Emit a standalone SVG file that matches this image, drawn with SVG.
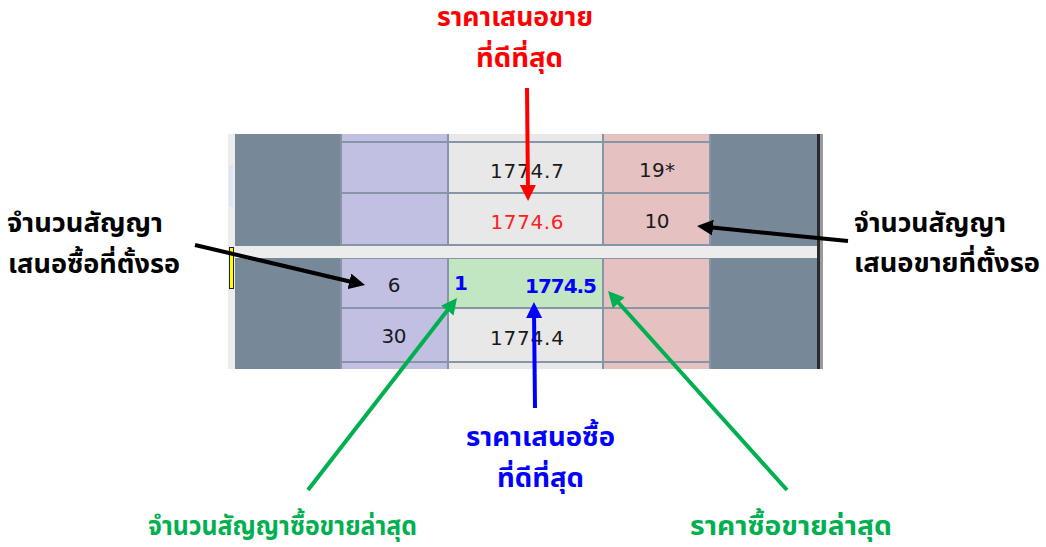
<svg xmlns="http://www.w3.org/2000/svg" width="1046" height="547" viewBox="0 0 1046 547">
<style>
.th{font-family:"Noto Sans Thai","Noto Sans Thai UI","Tahoma","Noto Sans","DejaVu Sans",sans-serif;font-weight:bold;font-size:26px}
.num{font-family:"DejaVu Sans","Liberation Sans",sans-serif;font-size:20px;fill:#1a1a1a}
.bnum{font-family:"DejaVu Sans","Liberation Sans",sans-serif;font-size:20px;font-weight:bold;fill:#0000FF}
.grid{stroke:#8796A6;stroke-width:2}
.dark{fill:#778899}
.band{fill:#ECECEC}
.pur{fill:#C1C0E2}
.prc{fill:#E8E8E8}
.pnk{fill:#E5C1C1}
.grn{fill:#C2E5C2}
.arr{stroke-width:4;fill:none}
</style>
<defs>
<marker id="hR" markerWidth="4" markerHeight="4" refX="2" refY="2" orient="auto" markerUnits="strokeWidth"><path d="M0,0 L4,2 L0,4 Z" fill="#FF0000"/></marker>
<marker id="hB" markerWidth="4" markerHeight="4" refX="2" refY="2" orient="auto" markerUnits="strokeWidth"><path d="M0,0 L4,2 L0,4 Z" fill="#0000FF"/></marker>
<marker id="hK" markerWidth="4" markerHeight="4" refX="2" refY="2" orient="auto" markerUnits="strokeWidth"><path d="M0,0 L4,2 L0,4 Z" fill="#000000"/></marker>
<marker id="hG" markerWidth="4" markerHeight="4" refX="2" refY="2" orient="auto" markerUnits="strokeWidth"><path d="M0,0 L4,2 L0,4 Z" fill="#00B050"/></marker>
</defs>
<rect width="1046" height="547" fill="#FFFFFF"/>

<g id="table">
  <rect x="228" y="134" width="7" height="235" fill="#ECECEC"/>
  <rect x="229" y="165" width="4" height="42" fill="#DCE6F2"/>
  <rect class="dark" x="235" y="134" width="106" height="235"/>
  <rect class="pur" x="341" y="134" width="107" height="235"/>
  <rect class="prc" x="448" y="134" width="155" height="235"/>
  <rect class="grn" x="448" y="258" width="155" height="50"/>
  <rect class="pnk" x="603" y="134" width="107" height="235"/>
  <rect class="dark" x="710" y="134" width="107" height="235"/>
  <rect x="817" y="134" width="3" height="235" fill="#2A2A2A"/>
  <rect x="820" y="134" width="3" height="235" fill="#9A9A9A"/>
  <g class="grid">
    <line x1="341" y1="142" x2="710" y2="142"/>
    <line x1="341" y1="193" x2="710" y2="193"/>
    <line x1="341" y1="245" x2="710" y2="245"/>
    <line x1="341" y1="258" x2="710" y2="258"/>
    <line x1="341" y1="308" x2="710" y2="308"/>
    <line x1="341" y1="362" x2="710" y2="362"/>
    <line x1="341" y1="134" x2="341" y2="369"/>
    <line x1="448" y1="134" x2="448" y2="369"/>
    <line x1="603" y1="134" x2="603" y2="369"/>
    <line x1="710" y1="134" x2="710" y2="369"/>
  </g>
  <rect class="band" x="228" y="246" width="589" height="12"/>
  <rect x="229.5" y="247.5" width="4" height="41" fill="#FFFF00" stroke="#222" stroke-width="1"/>
  <text class="num" x="527" y="178" text-anchor="middle" textLength="74">1774.7</text>
  <text class="num" x="527" y="229" text-anchor="middle" textLength="73" style="fill:#FF2020">1774.6</text>
  <text class="num" x="527" y="345" text-anchor="middle" textLength="74">1774.4</text>
  <text class="num" x="657" y="177" text-anchor="middle" textLength="36">19*</text>
  <text class="num" x="657" y="228" text-anchor="middle" textLength="25">10</text>
  <text class="num" x="394" y="292" text-anchor="middle">6</text>
  <text class="num" x="394" y="343" text-anchor="middle" textLength="25">30</text>
  <text class="bnum" x="454" y="290">1</text>
  <text class="bnum" x="597" y="293" text-anchor="end" textLength="72">1774.5</text>
</g>

<g id="connectors">
  <line class="arr" stroke="#FF0000" x1="527" y1="88" x2="528" y2="193" marker-end="url(#hR)"/>
  <line class="arr" stroke="#0000FF" x1="535" y1="408" x2="534" y2="310" marker-end="url(#hB)"/>
  <line class="arr" stroke="#000000" x1="195" y1="245" x2="357.2" y2="283.2" marker-end="url(#hK)"/>
  <line class="arr" stroke="#000000" x1="848" y1="241" x2="705" y2="226.8" marker-end="url(#hK)"/>
  <line class="arr" stroke="#00B050" x1="308" y1="490" x2="452.1" y2="304.3" marker-end="url(#hG)"/>
  <line class="arr" stroke="#00B050" x1="787" y1="490" x2="613.4" y2="297" marker-end="url(#hG)"/>
</g>

<g id="label-best-offer">
  <text class="th" x="437" y="26" fill="#FF0000" textLength="156" lengthAdjust="spacingAndGlyphs">ราคาเสนอขาย</text>
  <text class="th" x="476" y="67" fill="#FF0000" textLength="87" lengthAdjust="spacingAndGlyphs">ที่ดีที่สุด</text>
</g>
<g id="label-bid-qty">
  <text class="th" x="7" y="232" fill="#000000" textLength="156" lengthAdjust="spacingAndGlyphs">จำนวนสัญญา</text>
  <text class="th" x="8" y="273" fill="#000000" textLength="172" lengthAdjust="spacingAndGlyphs">เสนอซื้อที่ตั้งรอ</text>
</g>
<g id="label-offer-qty">
  <text class="th" x="854" y="232" fill="#000000" textLength="152" lengthAdjust="spacingAndGlyphs">จำนวนสัญญา</text>
  <text class="th" x="854" y="272" fill="#000000" textLength="186" lengthAdjust="spacingAndGlyphs">เสนอขายที่ตั้งรอ</text>
</g>
<g id="label-best-bid">
  <text class="th" x="466" y="446" fill="#0000FF" textLength="149" lengthAdjust="spacingAndGlyphs">ราคาเสนอซื้อ</text>
  <text class="th" x="497" y="487" fill="#0000FF" textLength="87" lengthAdjust="spacingAndGlyphs">ที่ดีที่สุด</text>
</g>
<g id="label-last-qty">
  <text class="th" x="148" y="535" fill="#00B050" textLength="269" lengthAdjust="spacingAndGlyphs">จำนวนสัญญาซื้อขายล่าสุด</text>
</g>
<g id="label-last-price">
  <text class="th" x="690" y="535" fill="#00B050" textLength="202" lengthAdjust="spacingAndGlyphs">ราคาซื้อขายล่าสุด</text>
</g>
</svg>
